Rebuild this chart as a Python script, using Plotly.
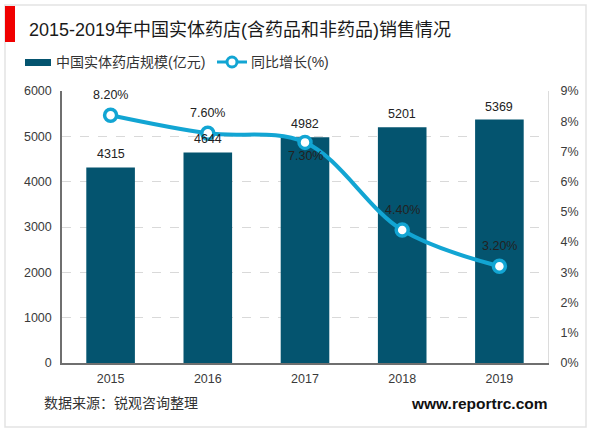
import plotly.graph_objects as go

years = ["2015", "2016", "2017", "2018", "2019"]
scale = [4315, 4644, 4982, 5201, 5369]
growth = [8.2, 7.6, 7.3, 4.4, 3.2]
growth_labels = ["8.20%", "7.60%", "7.30%", "4.40%", "3.20%"]
left_ticks = [0, 1000, 2000, 3000, 4000, 5000, 6000]
right_ticks = [0, 1, 2, 3, 4, 5, 6, 7, 8, 9]
right_labels = ["0%", "1%", "2%", "3%", "4%", "5%", "6%", "7%", "8%", "9%"]

bar_name = "中国实体药店规模(亿元)"
line_name = "同比增长(%)"
title_text = "2015-2019年中国实体药店(含药品和非药品)销售情况"
source_text = "数据来源\uff1a锐观咨询整理"
site_text = "www.reportrc.com"

FONT = "Liberation Sans, Arial, Noto Sans CJK SC"
BAR = "#04546f"
LINE = "#12a5d3"
TICK = "#3a3a3a"
W, H = 600, 433
L, R, T, B = 62, 52, 91, 70


# paper coordinates are relative to the plot area, so convert from page pixels
def px(x):
    return (x - L) / (W - L - R)


def py(y):
    return (H - B - y) / (H - T - B)


def page_text(text, x, y, size, color, anchor="left"):
    return dict(text=text, xref="paper", yref="paper", x=px(x), y=py(y), xanchor=anchor, yanchor="middle",
                showarrow=False, font=dict(size=size, color=color))


fig = go.Figure()

fig.add_trace(go.Bar(
    x=years, y=scale, name=bar_name, width=0.5,
    marker=dict(color=BAR, line=dict(width=0)),
))
fig.add_trace(go.Scatter(
    x=years, y=growth, name=line_name, yaxis="y2",
    mode="lines+markers",
    line=dict(color=LINE, width=4, shape="spline", smoothing=1.0),
    marker=dict(size=12, color="white", line=dict(color=LINE, width=3.5)),
    cliponaxis=False,
))

# value labels as annotations so they sit over the markers, like the original
# x is the category index here, a year string gets read as a number
labels = []
for i, v in enumerate(scale):
    labels.append(dict(x=i, y=v, xref="x", yref="y", text=str(v), showarrow=False, yanchor="middle", yshift=13,
                       font=dict(size=12.5, color="#222222")))
for i, (v, txt) in enumerate(zip(growth, growth_labels)):
    shift = -14 if years[i] == "2017" else 20
    labels.append(dict(x=i, y=v, xref="x", yref="y2", text=txt, showarrow=False, yanchor="middle", yshift=shift,
                       font=dict(size=12.5, color="#222222")))

fig.update_layout(
    width=W, height=H,
    autosize=False,
    margin=dict(l=L, r=R, t=T, b=B),
    paper_bgcolor="white", plot_bgcolor="white",
    showlegend=False,
    font=dict(family=FONT, size=12.5, color=TICK),
    xaxis=dict(
        type="category", showgrid=False, ticks="", showline=True,
        linecolor="#6f6f6f", linewidth=1.5, ticklabelstandoff=3,
        tickfont=dict(size=12.5, color=TICK),
    ),
    yaxis=dict(
        range=[0, 6000], tickvals=left_ticks, showgrid=True,
        gridcolor="#d9d9d9", griddash="dash", gridwidth=1, zeroline=False,
        showline=True, linecolor="#6f6f6f", linewidth=1.5, ticks="", ticklabelstandoff=6,
        tickfont=dict(size=12.5, color=TICK),
    ),
    yaxis2=dict(
        range=[0, 9], tickvals=right_ticks, ticktext=right_labels, overlaying="y",
        side="right", showgrid=False, zeroline=False, showline=True, linecolor="#dcdcdc",
        linewidth=1, ticks="", ticklabelstandoff=9,
        tickfont=dict(size=12.5, color=TICK),
    ),
    shapes=[
        # outer frame and red title tab
        dict(type="rect", xref="paper", yref="paper", x0=px(5), x1=px(586), y0=py(427), y1=py(5),
             line=dict(color="#e3e3e3", width=1.5), fillcolor="rgba(0,0,0,0)"),
        dict(type="rect", xref="paper", yref="paper", x0=px(5), x1=px(15), y0=py(42), y1=py(6),
             line=dict(width=0), fillcolor="#f00000"),
        # hand made legend keys
        dict(type="rect", xref="paper", yref="paper", x0=px(25), x1=px(51), y0=py(66), y1=py(59),
             line=dict(width=0), fillcolor=BAR),
        dict(type="line", xref="paper", yref="paper", x0=px(217), x1=px(247), y0=py(62), y1=py(62),
             line=dict(color=LINE, width=3)),
        dict(type="circle", xref="paper", yref="paper", x0=px(227), x1=px(237), y0=py(67), y1=py(57),
             line=dict(color=LINE, width=3), fillcolor="white"),
    ],
    annotations=labels + [
        page_text(title_text, 27, 30, 18, "#1a1a1a"),
        page_text(bar_name, 54, 62, 14, "#333333"),
        page_text(line_name, 249, 62, 14, "#333333"),
        page_text(source_text, 42, 403, 14, "#333333"),
        page_text("<b>" + site_text + "</b>", 550, 403, 15.5, "#111111", "right"),
    ],
)

fig.write_html("out.html", config=dict(displayModeBar=False), post_script="document.body.style.margin='0';")
